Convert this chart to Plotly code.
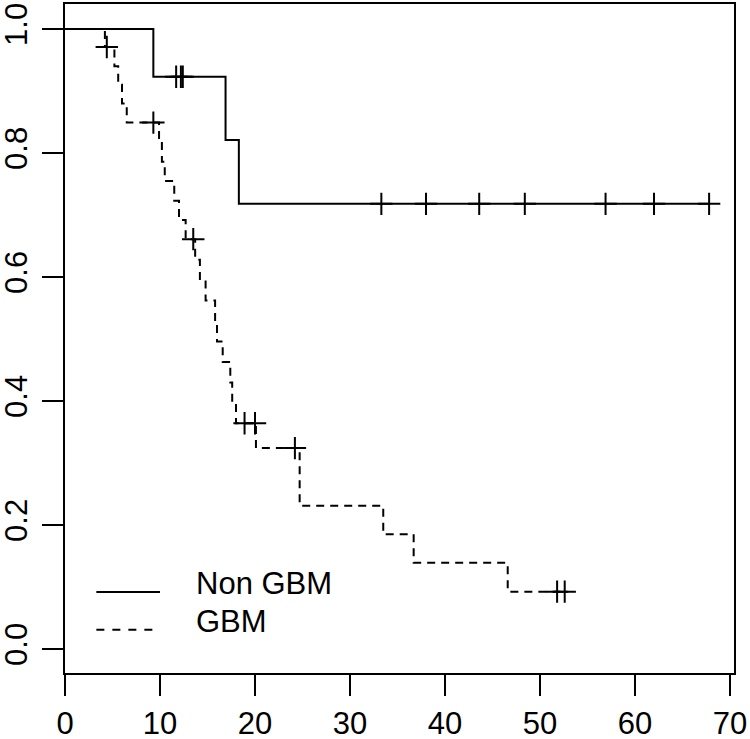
import plotly.graph_objects as go

# ---- Data (Kaplan-Meier curves) ----
# Non GBM: event (drop) times and survival level after each drop
nongbm_event_t = [9.3, 16.9, 18.3]
nongbm_event_s = [0.923, 0.821, 0.718]
nongbm_cens_t = [11.7, 12.2, 12.4, 33.3, 38.0, 43.6, 48.4, 56.9, 62.0, 67.8]
nongbm_cens_s = [0.923, 0.923, 0.923, 0.718, 0.718, 0.718, 0.718, 0.718, 0.718, 0.718]

# GBM
gbm_event_t = [4.2, 5.2, 5.6, 6.0, 6.5, 9.9, 10.2, 10.5, 11.5, 12.0, 12.7,
               13.7, 14.2, 14.8, 15.8, 16.0, 16.6, 17.4, 17.6, 18.0,
               20.1, 24.7, 33.5, 36.7, 46.6]
gbm_event_s = [0.971, 0.940, 0.910, 0.880, 0.849, 0.818, 0.786, 0.755, 0.723, 0.692, 0.661,
               0.628, 0.595, 0.562, 0.529, 0.496, 0.463, 0.430, 0.397, 0.364,
               0.324, 0.231, 0.185, 0.139, 0.0925]
gbm_cens_t = [4.4, 9.3, 13.5, 18.9, 20.0, 24.2, 51.8, 52.6]
gbm_cens_s = [0.971, 0.849, 0.661, 0.364, 0.364, 0.324, 0.0925, 0.0925]

x_ticks = [0, 10, 20, 30, 40, 50, 60, 70]
y_ticks = [0.0, 0.2, 0.4, 0.6, 0.8, 1.0]
legend_labels = ["Non GBM", "GBM"]

FONT = "Liberation Sans, Arial, Helvetica, sans-serif"
DASH = "8px,6px"


def step_xy(et, es, cens_t):
    xs = [0.0] + list(et)
    ys = [1.0] + list(es)
    last = max(cens_t + et)
    if last > xs[-1]:
        xs.append(last)
        ys.append(ys[-1])
    return xs, ys


fig = go.Figure()

for et, es, ct, cs, dash in [
    (nongbm_event_t, nongbm_event_s, nongbm_cens_t, nongbm_cens_s, "solid"),
    (gbm_event_t, gbm_event_s, gbm_cens_t, gbm_cens_s, DASH),
]:
    xs, ys = step_xy(et, es, ct)
    fig.add_trace(go.Scatter(x=xs, y=ys, mode="lines", line_shape="hv",
                             line=dict(color="black", width=2, dash=dash),
                             showlegend=False, hoverinfo="skip", cliponaxis=False))
    fig.add_trace(go.Scatter(x=ct, y=cs, mode="markers",
                             marker=dict(symbol="cross-thin", size=16, color="black",
                                         line=dict(color="black", width=2)),
                             showlegend=False, hoverinfo="skip", cliponaxis=False))

# legend (drawn like R's legend(): long line samples + text)
leg_y_line = [0.092, 0.031]
leg_y_text = [0.106, 0.045]
for i, (lab, dash) in enumerate(zip(legend_labels, ["solid", "8px,8px"])):
    fig.add_shape(type="line", xref="x", yref="y", x0=3.3, x1=10.0,
                  y0=leg_y_line[i], y1=leg_y_line[i],
                  line=dict(color="black", width=2, dash=dash))
    fig.add_annotation(xref="x", yref="y", x=13.6, y=leg_y_text[i], text=lab,
                       showarrow=False, xanchor="left", yanchor="middle",
                       font=dict(family=FONT, size=31, color="black"))

fig.update_layout(
    width=750, height=739,
    margin=dict(l=65, r=16, t=4, b=66, autoexpand=False),
    paper_bgcolor="white", plot_bgcolor="white",
    font=dict(family=FONT, size=31, color="black"),
)
fig.update_xaxes(range=[0, 70.42], tickvals=x_ticks, ticks="outside", ticklen=21,
                 tickwidth=2, tickcolor="black", showline=True, linewidth=2,
                 linecolor="black", mirror=True, showgrid=False, zeroline=False,
                 automargin=False, ticklabelstandoff=1,
                 tickfont=dict(family=FONT, size=31, color="black"))
fig.update_yaxes(range=[-0.0387, 1.0403], tickvals=y_ticks, tickformat=".1f",
                 ticks="outside", ticklen=21, tickwidth=2, tickcolor="black",
                 showline=True, linewidth=2, linecolor="black", mirror=True,
                 showgrid=False, zeroline=False, tickangle=-90, automargin=False,
                 ticklabelstandoff=3,
                 tickfont=dict(family=FONT, size=31, color="black"))

fig.write_html("out.html", config={"displayModeBar": False},
               post_script="document.body.style.margin='0';document.body.style.padding='0';")
